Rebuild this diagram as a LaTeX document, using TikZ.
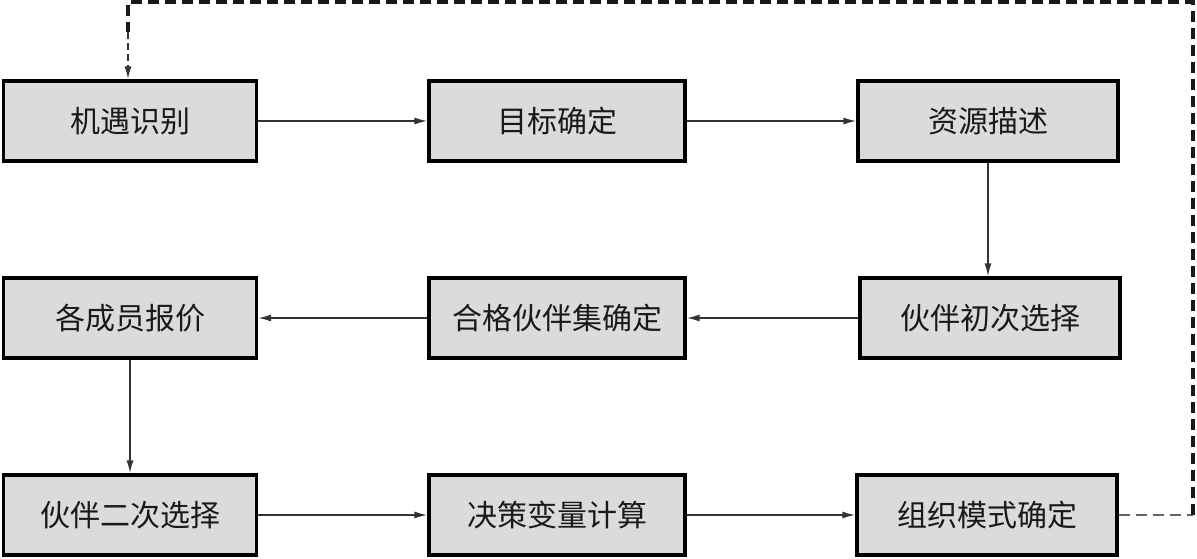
\documentclass[tikz,border=0pt]{standalone}
\usepackage{fontspec}
\newfontfamily\cjk{Noto Sans CJK SC}
\usetikzlibrary{arrows.meta}
\begin{document}
\begin{tikzpicture}[x=1pt,y=-1pt,
  procbox/.style={draw=black,line width=3.2pt,fill=gray!28,minimum height=80pt,inner sep=0pt,font=\cjk\fontsize{30}{32}\selectfont,text=black!90},
  w1/.style={minimum width=253pt},
  w2/.style={minimum width=256pt},
  w3/.style={minimum width=260pt},
  link/.style={line width=1.7pt,draw=black!80,-{Latex[length=13pt,width=7pt]}},
  fb/.style={line width=3.6pt,dash pattern=on 11pt off 6pt,draw=black!90}]
\useasboundingbox (0,0) rectangle (1197,558);
\node[procbox,w1] (a1) at (130,121) {机遇识别};
\node[procbox,w2] (a2) at (557,121) {目标确定};
\node[procbox,w3] (a3) at (988,121) {资源描述};
\node[procbox,w1] (b1) at (130,318) {各成员报价};
\node[procbox,w2] (b2) at (557,318) {合格伙伴集确定};
\node[procbox,w3] (b3) at (990,318) {伙伴初次选择};
\node[procbox,w1] (c1) at (130,515) {伙伴二次选择};
\node[procbox,w2] (c2) at (557,515) {决策变量计算};
\node[procbox,w3] (c3) at (987,515) {组织模式确定};
\draw[link] (a1) -- (a2);
\draw[link] (a2) -- (a3);
\draw[link] (a3.south) -- (a3.south |- b3.north);
\draw[link] (b3) -- (b2);
\draw[link] (b2) -- (b1);
\draw[link] (b1) -- (c1);
\draw[link] (c1) -- (c2);
\draw[link] (c2) -- (c3);
\coordinate (r1) at (1193,515);
\coordinate (r2) at (1193,2);
\coordinate (r3) at (128,2);
\draw[fb,draw=black!60,line width=2.6pt] (c3.east) -- (r1);
\draw[fb] (r1) -- (r2) -- (r3) -- ([yshift=-30pt]r3);
\draw[line width=1.7pt,dash pattern=on 7pt off 4pt,draw=black!80,-{Latex[length=13pt,width=7pt]}] ([yshift=-30pt]r3) -- (a1.north -| r3);
\end{tikzpicture}
\end{document}
